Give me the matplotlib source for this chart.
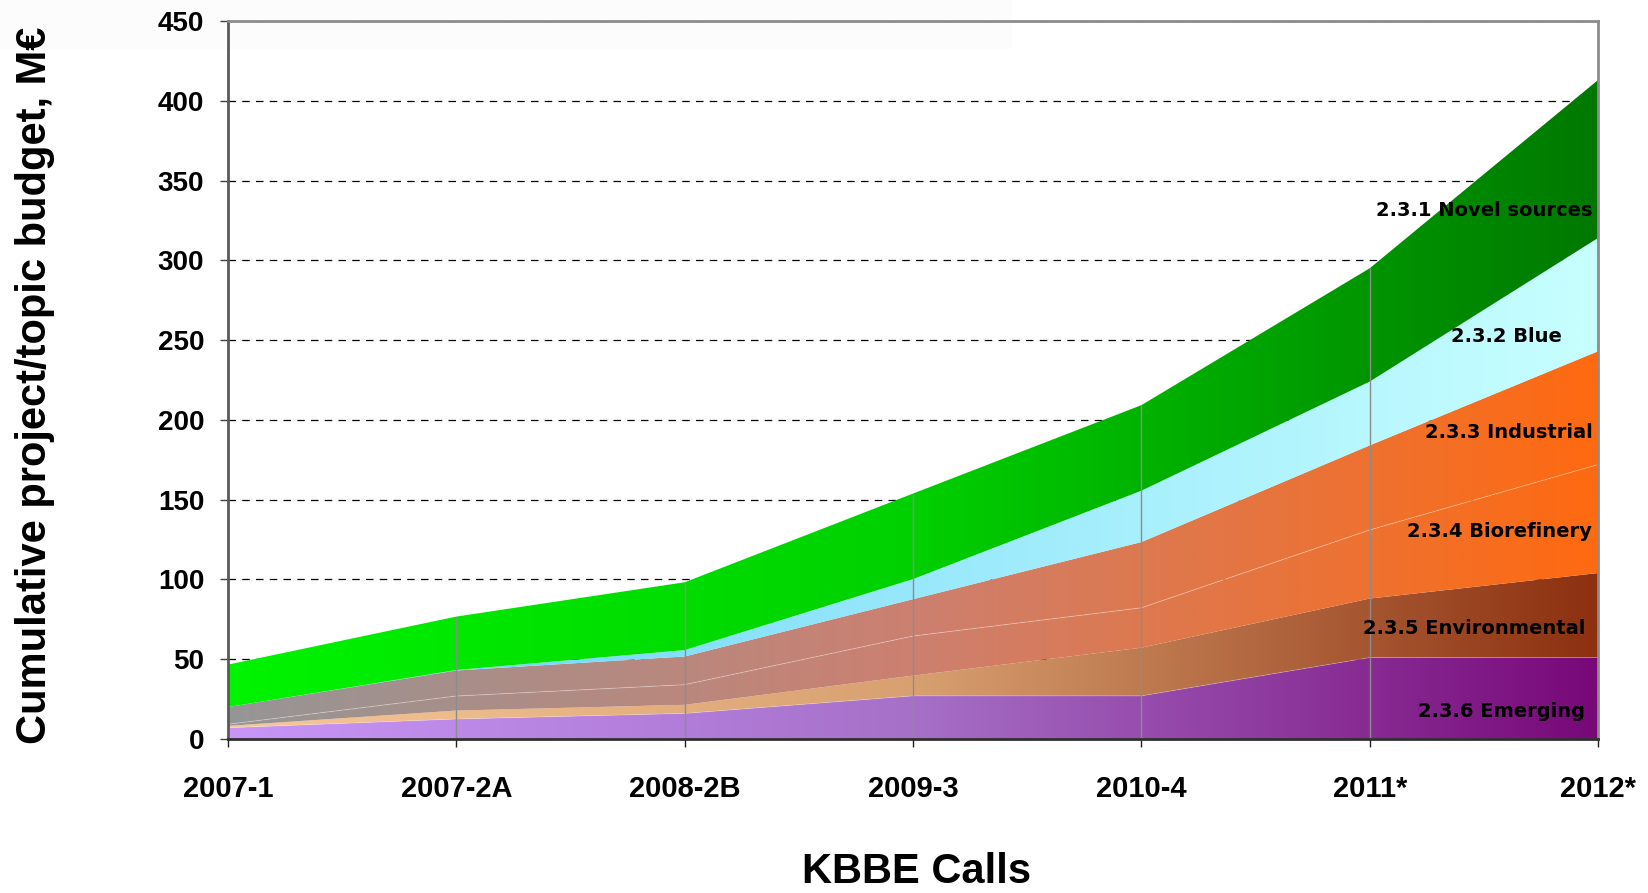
import numpy as np
import matplotlib
matplotlib.use("Agg")
import matplotlib.pyplot as plt
from matplotlib.colors import LinearSegmentedColormap
from matplotlib.patches import Polygon, Rectangle

# KBBE çağrıları ve tema bütçeleri (M€, katman başına)
calls = ["2007-1", "2007-2A", "2008-2B", "2009-3", "2010-4", "2011*", "2012*"]
emerging = [7, 12.5, 16, 27, 27, 51, 51]
environmental = [1.2, 5.3, 5.4, 12.7, 30.2, 37, 53]
biorefinery = [1.0, 9.1, 12.6, 24.8, 25, 43, 68]
industrial = [10.8, 16, 17.7, 23.1, 41.2, 53, 71]
blue = [0, 0.3, 4, 12.6, 32.2, 40, 71]
novel = [26.6, 33.5, 42.5, 53.6, 53.6, 71, 99]

series = [emerging, environmental, biorefinery, industrial, blue, novel]
labels = ["2.3.6 Emerging", "2.3.5 Environmental", "2.3.4 Biorefinery",
          "2.3.3 Industrial", "2.3.2 Blue", "2.3.1 Novel sources"]

# soldan sağa renk geçişleri
gradients = [
    ["#c896f8", "#a670c8", "#780878"],
    ["#f8c898", "#d8a070", "#8c3010"],
    ["#969696", "#cc8070", "#ff6a10"],
    ["#969696", "#cc8070", "#ff6a10"],
    ["#60d0f8", "#98e8fc", "#c8ffff"],
    ["#00f400", "#00d000", "#007800"],
]

fig = plt.figure(figsize=(16.48, 8.93), dpi=100)
bg = Rectangle((0, 1 - 49 / 893), 1012 / 1648, 49 / 893,
               transform=fig.transFigure, facecolor="#fcfcfc",
               edgecolor="none", zorder=-5)
fig.patches.append(bg)
ax = fig.add_axes([0.1383, 0.1725, 0.8314, 0.804])
ax.set_facecolor("none")

x = np.arange(len(calls))
tops = np.cumsum(np.array(series, dtype=float), axis=0)
bottoms = np.vstack([np.zeros(len(calls)), tops[:-1]])

grad = np.linspace(0, 1, 512).reshape(1, -1)
for i in range(len(series)):
    verts = np.concatenate([np.column_stack([x, tops[i]]),
                            np.column_stack([x[::-1], bottoms[i][::-1]])])
    poly = Polygon(verts, closed=True, facecolor="none", edgecolor="none",
                   transform=ax.transData)
    ax.add_patch(poly)
    cmap = LinearSegmentedColormap.from_list("g%d" % i, gradients[i])
    im = ax.imshow(grad, cmap=cmap, extent=[x[0], x[-1], 0, 450],
                   aspect="auto", origin="lower", zorder=2,
                   interpolation="bilinear")
    im.set_clip_path(poly)

# katmanlar arasındaki ince açık çizgi
ax.plot(x, tops[2], color="white", lw=0.7, alpha=0.3, zorder=3)
ax.plot(x, tops[0], color="white", lw=0.6, alpha=0.25, zorder=3)

# kategori çizgileri
ax.vlines(x[1:-1], 0, tops[-1][1:-1], color="#8c8c8c", lw=1.0, zorder=4)

ax.set_xlim(x[0], x[-1])
ax.set_ylim(0, 450)
ax.set_yticks(np.arange(0, 451, 50))
ax.set_xticks(x)
ax.set_xticklabels(calls)
ax.yaxis.grid(True, color="black", linestyle=(0, (6, 5)), lw=0.9)
ax.set_axisbelow(True)

for s in ["left", "bottom"]:
    ax.spines[s].set_linewidth(2)
ax.spines["left"].set_color("#5a5a5a")
ax.spines["bottom"].set_color("#303030")
for s in ["top", "right"]:
    ax.spines[s].set_color("#8c8c8c")
    ax.spines[s].set_linewidth(2)
for sp in ax.spines.values():
    sp.set_zorder(5)

ax.tick_params(axis="y", length=6, width=1, color="#404040", pad=11,
               labelsize=20)
ax.tick_params(axis="x", length=6, width=1, color="#202020", pad=20,
               labelsize=21)
for lab in ax.get_xticklabels() + ax.get_yticklabels():
    lab.set_family("Liberation Sans")
    lab.set_fontweight("bold")

fig.text(0.021, 0.568, "Cumulative project/topic budget, M€", rotation=90,
         ha="center", va="center", fontsize=30, fontweight="bold",
         family="Liberation Sans")
fig.text(0.556, 0.024, "KBBE Calls", ha="center", va="center",
         fontsize=30, fontweight="bold", family="Liberation Sans")

# katman etiketleri
label_pos = [(5.944, 17), (5.944, 69), (5.975, 130), (5.975, 192),
             (5.84, 252), (5.975, 331)]
for lab, (lx, ly) in zip(labels, label_pos):
    ax.text(lx, ly, lab, ha="right", va="center", fontsize=14,
            fontweight="bold", family="DejaVu Sans", color="black",
            zorder=6)

fig.savefig("out.png", dpi=100)
plt.close(fig)
